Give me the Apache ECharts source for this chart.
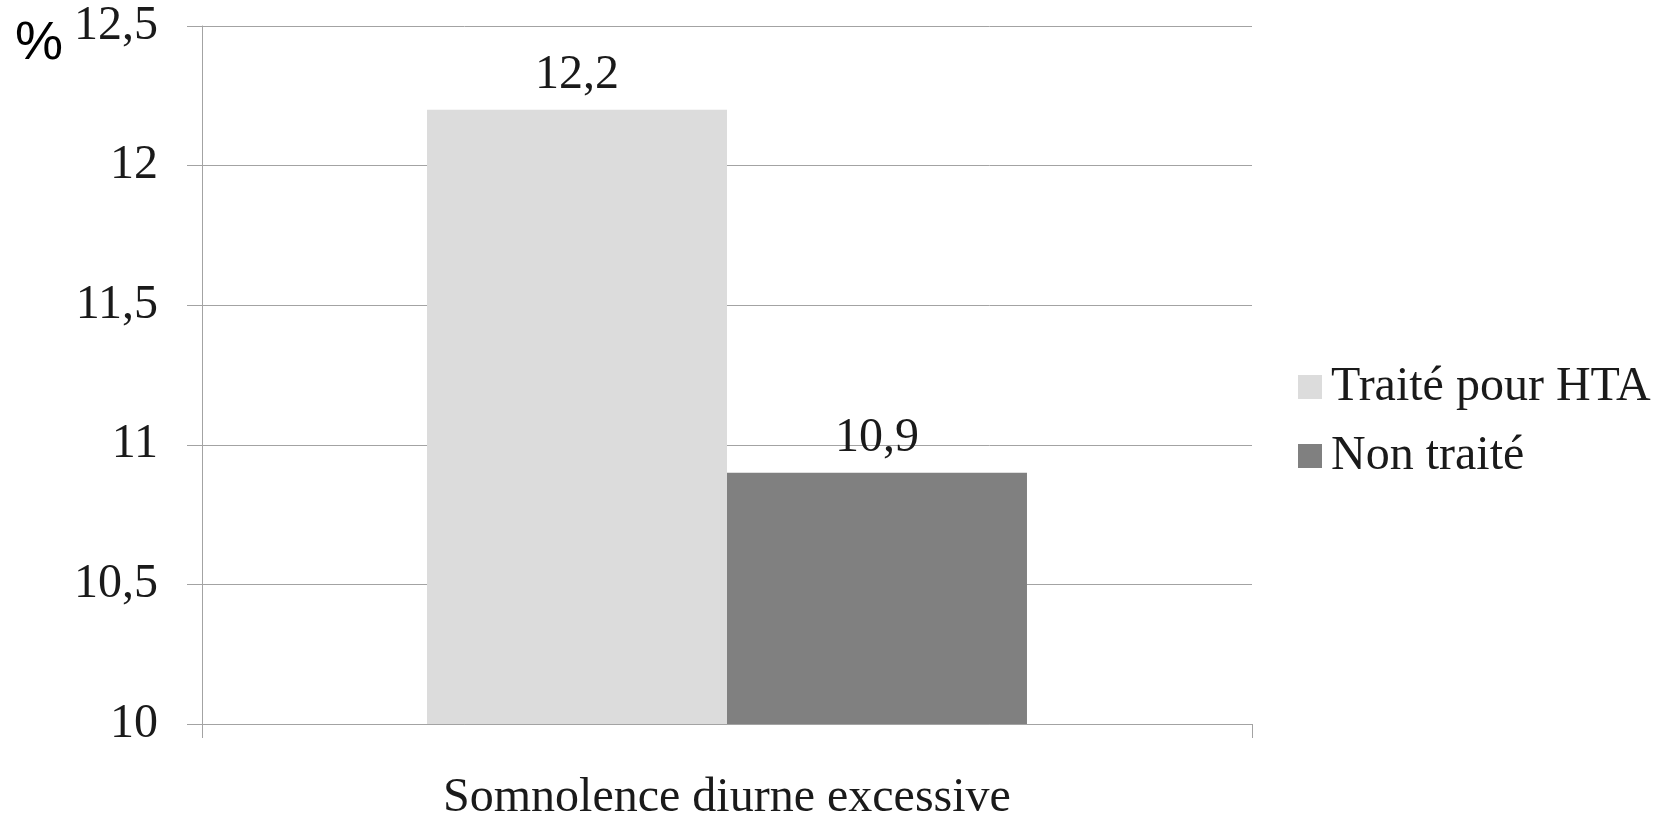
<!DOCTYPE html>
<html>
<head>
<meta charset="utf-8">
<script src="https://cdn.jsdelivr.net/npm/echarts@6/dist/echarts.min.js"></script>
<style>
  html, body { margin: 0; padding: 0; background: #ffffff; }
  #chart { width: 1671px; height: 815px; }
</style>
</head>
<body>
<div id="chart"></div>
<script>
// Data
const categories = ['Somnolence diurne excessive'];
const seriesNames = ['Traité pour HTA', 'Non traité'];
const treatedValues = [12.2];
const untreatedValues = [10.9];
const yTicks = { min: 10, max: 12.5, interval: 0.5 };

const serif = '"Liberation Serif", "Times New Roman", serif';
const textColor = '#1a1a1a';
const lineColor = '#a3a3a3';
const frNum = v => String(v).replace('.', ',');

const chart = echarts.init(document.getElementById('chart'), null, { renderer: 'canvas' });

chart.setOption({
  animation: false,
  backgroundColor: '#ffffff',
  title: {
    text: '%',
    left: 10,
    top: 12,
    textStyle: { fontFamily: '"Liberation Sans", Arial, sans-serif', fontSize: 54, fontWeight: 'normal', color: '#000000' }
  },
  grid: { left: 202, right: 419, top: 26, bottom: 91, containLabel: false, outerBoundsMode: 'none' },
  legend: {
    orient: 'vertical',
    left: 1293,
    top: 358,
    itemWidth: 24,
    itemHeight: 24,
    itemGap: 21,
    icon: 'rect',
    data: seriesNames,
    textStyle: { fontFamily: serif, fontSize: 48, lineHeight: 48, color: textColor, padding: [0, 0, 0, 4] }
  },
  xAxis: {
    type: 'category',
    data: categories,
    boundaryGap: true,
    axisLine: { show: true, lineStyle: { color: lineColor, width: 1 } },
    axisTick: { show: true, length: 14, alignWithLabel: false, lineStyle: { color: lineColor } },
    axisLabel: { fontFamily: serif, fontSize: 48, lineHeight: 48, color: textColor, margin: 50 },
    splitLine: { show: false }
  },
  yAxis: {
    type: 'value',
    min: yTicks.min,
    max: yTicks.max,
    interval: yTicks.interval,
    axisLine: { show: true, lineStyle: { color: lineColor, width: 1 } },
    axisTick: { show: true, length: 15, lineStyle: { color: lineColor } },
    axisLabel: {
      fontFamily: serif, fontSize: 48, color: textColor, margin: 44,
      formatter: v => frNum(v)
    },
    splitLine: { show: true, lineStyle: { color: lineColor, width: 1 } }
  },
  series: [
    {
      name: seriesNames[0],
      type: 'bar',
      data: treatedValues,
      barGap: '0%',
      barCategoryGap: '42.86%',
      itemStyle: { color: '#dcdcdc' },
      label: {
        show: true, position: 'top', distance: 10,
        fontFamily: serif, fontSize: 48, lineHeight: 48, color: textColor,
        formatter: p => frNum(p.value)
      }
    },
    {
      name: seriesNames[1],
      type: 'bar',
      data: untreatedValues,
      barGap: '0%',
      barCategoryGap: '42.86%',
      itemStyle: { color: '#808080' },
      label: {
        show: true, position: 'top', distance: 10,
        fontFamily: serif, fontSize: 48, lineHeight: 48, color: textColor,
        formatter: p => frNum(p.value)
      }
    }
  ]
});
</script>
</body>
</html>
